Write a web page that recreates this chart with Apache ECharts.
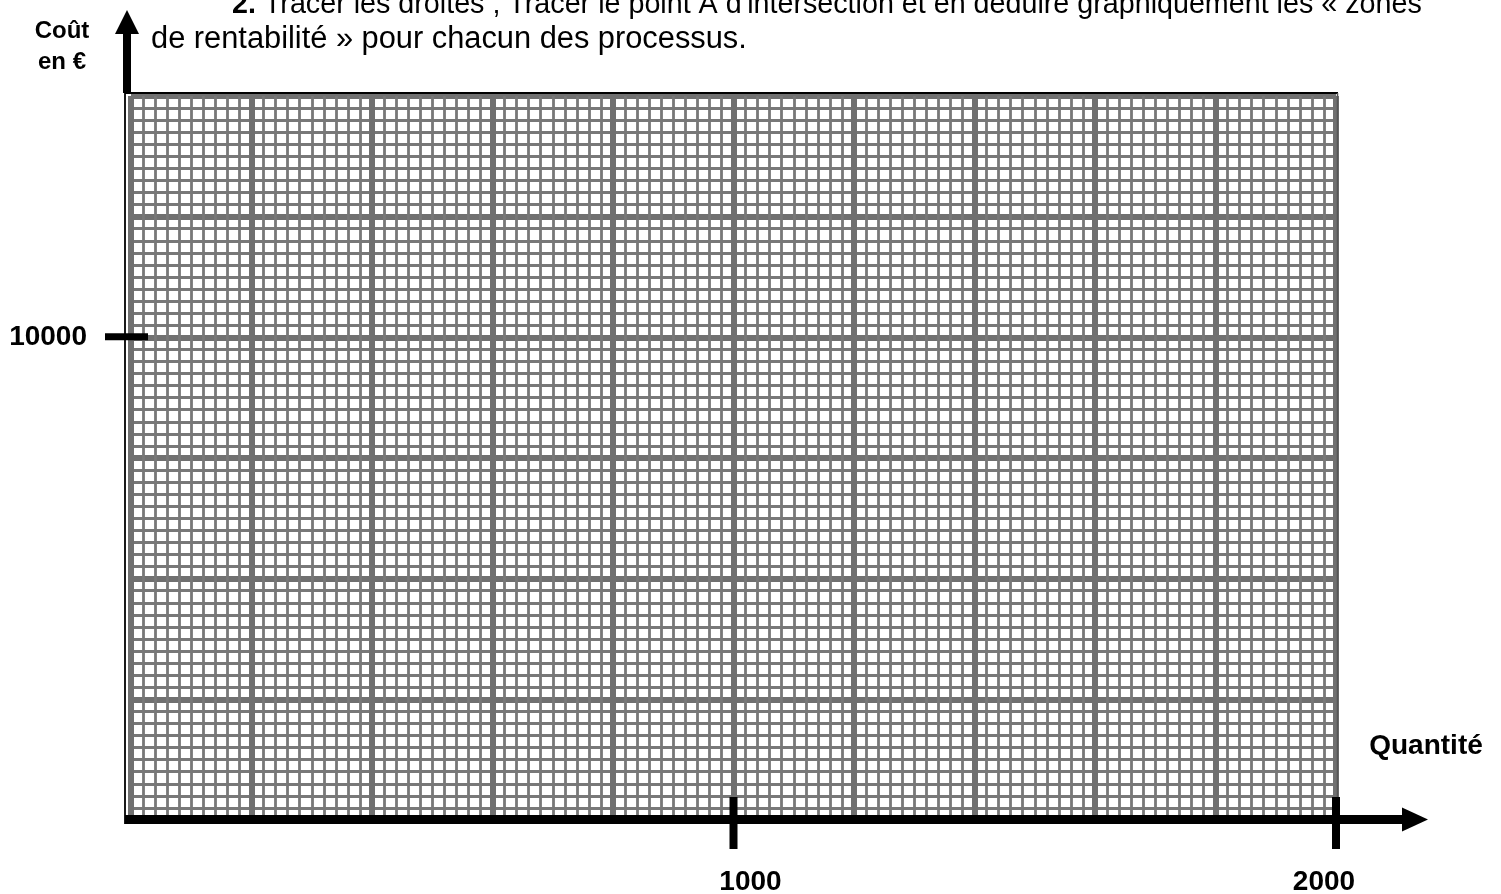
<!DOCTYPE html>
<html><head><meta charset="utf-8">
<script src="https://cdn.jsdelivr.net/npm/echarts@6/dist/echarts.min.js"></script>
<style>html,body{margin:0;padding:0;background:#fff}#c{width:1501px;height:894px}</style>
</head><body><div id="c"></div>
<script>
// ---- data ----
const xRange = [0, 2000];
const xMajorStep = 200;
const yRange = [0, 15000];
const yMajorStep = 2500;
const minorDivisions = 10;
const xTickValues = [1000, 2000];
const xTickLabels = ['1000', '2000'];
const yTickValues = [10000];
const yTickLabels = ['10000'];
const xAxisTitle = 'Quantité';
const yAxisTitle = ['Coût', 'en €'];
const instructionLead = '2.';
const instructionLine1 = ' Tracer les droites\u00a0; Tracer le point A d\'intersection et en déduire graphiquement les «\u00a0zones';
const instructionLine2 = 'de rentabilité\u00a0» pour chacun des processus.';

// ---- layout ----
const FONT = '"Liberation Sans", Arial, sans-serif';
const labelDx = [17, -12];
const GRAY = '#707070';

const chart = echarts.init(document.getElementById('c'), null, {renderer: 'canvas'});
const axisCommon = {
  type: 'value',
  axisLine: {show: false}, axisTick: {show: false}, axisLabel: {show: false},
  splitLine: {show: true, lineStyle: {color: GRAY, width: 6}},
  minorTick: {show: false, splitNumber: minorDivisions},
  minorSplitLine: {show: true, lineStyle: {color: '#787878', width: 2.8}}
};
chart.setOption({
  animation: false,
  backgroundColor: '#fff',
  grid: {left: 131, right: 165, top: 96, bottom: 74},
  xAxis: Object.assign({}, axisCommon, {min: xRange[0], max: xRange[1], interval: xMajorStep}),
  yAxis: Object.assign({}, axisCommon, {min: yRange[0], max: yRange[1], interval: yMajorStep}),
  series: [{type: 'line', data: [], silent: true}]
});

const px = (x, y) => chart.convertToPixel({gridIndex: 0}, [x, y]);
const o = px(xRange[0], yRange[0]);
const tr = px(xRange[1], yRange[1]);
const x0 = o[0], y0 = o[1], xR = tr[0], yT = tr[1];
const g = [];
// border lines
g.push({type: 'line', shape: {x1: x0 - 6, y1: yT - 3, x2: xR + 2, y2: yT - 3}, style: {stroke: '#000', lineWidth: 1.8}, z: 10});
g.push({type: 'line', shape: {x1: x0 - 6, y1: yT - 3, x2: x0 - 6, y2: y0 + 4}, style: {stroke: '#000', lineWidth: 1.8}, z: 10});
g.push({type: 'line', shape: {x1: xR + 1.5, y1: yT - 3, x2: xR + 1.5, y2: y0}, style: {stroke: '#555', lineWidth: 1.5}, z: 10});
// y axis arrow (above grid)
g.push({type: 'rect', shape: {x: x0 - 8, y: 33, width: 8, height: yT - 3 - 33}, style: {fill: '#000'}, z: 11});
g.push({type: 'polygon', shape: {points: [[x0 - 16, 34], [x0 + 8, 34], [x0 - 4, 10]]}, style: {fill: '#000'}, z: 11});
// x axis arrow
g.push({type: 'rect', shape: {x: x0 - 6, y: y0 - 5, width: 1403 - (x0 - 6), height: 9}, style: {fill: '#000'}, z: 11});
g.push({type: 'polygon', shape: {points: [[1402, y0 - 12.5], [1402, y0 + 11.5], [1428, y0 - 0.5]]}, style: {fill: '#000'}, z: 11});
// x ticks + labels
xTickValues.forEach((v, i) => {
  const p = px(v, 0);
  g.push({type: 'rect', shape: {x: p[0] - 4, y: y0 - 23, width: 8, height: 52}, style: {fill: '#000'}, z: 12});
  g.push({type: 'text', x: p[0] + labelDx[i], y: 882, style: {text: xTickLabels[i], font: 'bold 28px ' + FONT, fill: '#000', align: 'center', verticalAlign: 'middle'}, z: 12});
});
// y ticks + labels
yTickValues.forEach((v, i) => {
  const p = px(0, v);
  g.push({type: 'rect', shape: {x: x0 - 26, y: p[1] - 4, width: 43, height: 7}, style: {fill: '#000'}, z: 12});
  g.push({type: 'text', x: 87, y: p[1], style: {text: yTickLabels[i], font: 'bold 28px ' + FONT, fill: '#000', align: 'right', verticalAlign: 'middle'}, z: 12});
});
// axis titles
g.push({type: 'text', x: 1426, y: 746, style: {text: xAxisTitle, font: 'bold 28px ' + FONT, fill: '#000', align: 'center', verticalAlign: 'middle'}, z: 12});
g.push({type: 'text', x: 62, y: 31, style: {text: yAxisTitle[0], font: 'bold 24px ' + FONT, fill: '#000', align: 'center', verticalAlign: 'middle'}, z: 12});
g.push({type: 'text', x: 62, y: 62, style: {text: yAxisTitle[1], font: 'bold 24px ' + FONT, fill: '#000', align: 'center', verticalAlign: 'middle'}, z: 12});
// instruction text
g.push({type: 'text', x: 232, y: 5, style: {
  text: '{b|' + instructionLead + '}{r|' + instructionLine1 + '}',
  rich: {b: {font: 'bold 28.7px ' + FONT, fill: '#000'}, r: {font: '28.7px ' + FONT, fill: '#000'}},
  verticalAlign: 'middle', align: 'left'}, z: 12});
g.push({type: 'text', x: 151, y: 40, style: {text: instructionLine2, font: '30.8px ' + FONT, fill: '#000', verticalAlign: 'middle', align: 'left'}, z: 12});
chart.setOption({graphic: {elements: g}});
</script></body></html>
